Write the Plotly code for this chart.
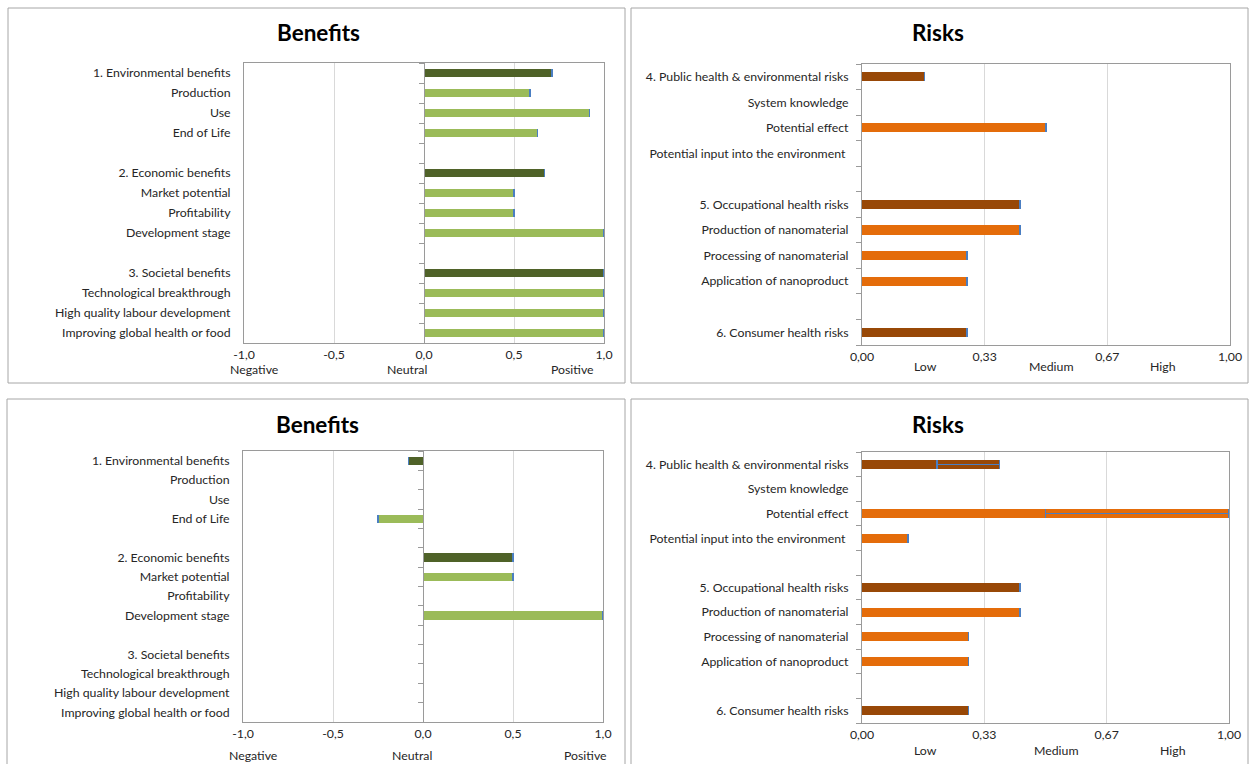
import plotly.graph_objects as go

# ---------------- data ----------------
benefit_categories = ["1. Environmental benefits", "Production", "Use", "End of Life", "",
                      "2. Economic benefits", "Market potential", "Profitability", "Development stage", "",
                      "3. Societal benefits", "Technological breakthrough",
                      "High quality labour development", "Improving global health or food"]
benefits_top = [0.71, 0.59, 0.92, 0.63, None, 0.67, 0.50, 0.50, 1.0, None, 1.0, 1.0, 1.0, 1.0]
benefits_bottom = [-0.08, None, None, -0.25, None, 0.50, 0.50, None, 1.0, None, None, None, None, None]

risk_categories = ["4. Public health & environmental risks", "System knowledge", "Potential effect",
                   "Potential input into the environment\u00a0", "",
                   "5. Occupational health risks", "Production of nanomaterial",
                   "Processing of nanomaterial", "Application of nanoproduct", "",
                   "6. Consumer health risks"]
risks_top = [0.17, None, 0.50, None, None, 0.43, 0.43, 0.285, 0.285, None, 0.285]
risks_bottom = [0.375, None, 1.0, 0.125, None, 0.43, 0.43, 0.29, 0.29, None, 0.29]
risks_bottom_err_minus = [0.17, None, 0.50, 0, None, 0, 0, 0, 0, None, 0]

benefit_ticks = [-1.0, -0.5, 0.0, 0.5, 1.0]
benefit_scale_labels = ["Negative", "Neutral", "Positive"]
risk_ticks = [0.0, 1 / 3, 2 / 3, 1.0]
risk_scale_labels = ["Low", "Medium", "High"]

# ---------------- style ----------------
W, H = 1250, 764
FONT = "Lato"
FS = 12.3
TXT = "#262626"
DARK_GREEN, LIGHT_GREEN = "#4F6228", "#9BBB59"
BROWN, ORANGE = "#984807", "#E46C0A"
ERR_BLUE = "#4A7EC2"
GRID = "#D9D9D9"
FRAME = "#9A9A9A"


def px(x):
    return x / W


def py(y):
    return 1 - y / H


def is_header(label):
    return label[:1].isdigit()


def fmt(v, d):
    return ("%.*f" % (d, v)).replace(".", ",")


fig = go.Figure()

panels = [
    dict(cats=benefit_categories, vals=benefits_top, errm=None, hc=DARK_GREEN, sc=LIGHT_GREEN, ax="",
         xd=[px(244), px(604)], yd=[py(343), py(63)], bw=0.42, kind="b"),
    dict(cats=risk_categories, vals=risks_top, errm=None, hc=BROWN, sc=ORANGE, ax="2",
         xd=[px(862), px(1230)], yd=[py(345), py(64)], bw=0.36, kind="r"),
    dict(cats=benefit_categories, vals=benefits_bottom, errm=None, hc=DARK_GREEN, sc=LIGHT_GREEN, ax="3",
         xd=[px(243), px(603)], yd=[py(722), py(451)], bw=0.42, kind="b"),
    dict(cats=risk_categories, vals=risks_bottom, errm=risks_bottom_err_minus, hc=BROWN, sc=ORANGE, ax="4",
         xd=[px(862), px(1229)], yd=[py(723), py(452)], bw=0.36, kind="r"),
]

layout_axes = {}
extra_ax = 5
for p in panels:
    cats = p["cats"]
    n = len(cats)
    pos = list(range(n))
    colors = [p["hc"] if is_header(c) else p["sc"] for c in cats]
    err_plus = [0 if v is not None else None for v in p["vals"]]
    err_minus = p["errm"] if p["errm"] is not None else err_plus
    slot_px = (p["yd"][1] - p["yd"][0]) * H / n
    fig.add_trace(go.Bar(
        x=p["vals"], y=pos, orientation="h", width=p["bw"],
        marker=dict(color=colors, line=dict(width=0)),
        error_x=dict(type="data", symmetric=False, array=err_plus, arrayminus=err_minus,
                     color=ERR_BLUE, thickness=1.5, width=slot_px * p["bw"] / 2),
        xaxis="x" + p["ax"], yaxis="y" + p["ax"], showlegend=False, hoverinfo="x+y",
    ))
    xkey = "xaxis" + p["ax"]
    ykey = "yaxis" + p["ax"]
    boundaries = [i + 0.5 for i in range(-1, n)]
    if p["kind"] == "b":
        xa = dict(range=[-1, 1], tickvals=benefit_ticks, ticktext=[fmt(v, 1) for v in benefit_ticks])
    else:
        xa = dict(range=[0, 1], tickvals=risk_ticks, ticktext=[fmt(v, 2) for v in risk_ticks])
    layout_axes[xkey] = dict(domain=p["xd"], anchor="y" + p["ax"], showgrid=True, gridcolor=GRID,
                             gridwidth=1, zeroline=False, showline=True, linecolor=FRAME, mirror=True,
                             ticks="", tickmode="array", automargin=False,
                             tickfont=dict(family=FONT, size=FS, color=TXT), fixedrange=True, **xa)
    ya = dict(domain=p["yd"], anchor="x" + p["ax"], range=[n - 0.5, -0.5], tickmode="array",
              tickvals=pos, ticktext=cats, showgrid=False, zeroline=False, showline=True,
              linecolor=FRAME, mirror=True, ticks="", ticklabelstandoff=10, automargin=False,
              tickfont=dict(family=FONT, size=FS, color=TXT), fixedrange=True)
    if p["kind"] == "r":
        ya["minor"] = dict(tickmode="array", tickvals=boundaries, ticks="outside", ticklen=5,
                           tickcolor=FRAME, showgrid=False)
        layout_axes[ykey] = ya
    else:
        layout_axes[ykey] = ya
        zero_pos = p["xd"][0] + (p["xd"][1] - p["xd"][0]) * 0.5
        ek = "yaxis%d" % extra_ax
        layout_axes[ek] = dict(overlaying="y" + p["ax"], anchor="free", position=zero_pos, side="left",
                               range=[n - 0.5, -0.5], showline=True, linecolor=FRAME,
                               linewidth=1, showgrid=False, zeroline=False, showticklabels=False,
                               tickmode="array", tickvals=boundaries, ticks="outside", ticklen=5,
                               tickcolor=FRAME, fixedrange=True, automargin=False)
        fig.add_trace(go.Scatter(x=[0], y=[0], mode="markers", marker=dict(opacity=0),
                                 xaxis="x" + p["ax"], yaxis="y%d" % extra_ax, showlegend=False,
                                 hoverinfo="skip"))
        extra_ax += 1

annotations = []
for (tx, ty, t) in [(318, 32, "Benefits"), (938, 32, "Risks"), (317, 424, "Benefits"), (938, 424, "Risks")]:
    annotations.append(dict(x=px(tx), y=py(ty), xref="paper", yref="paper", text="<b>%s</b>" % t,
                            showarrow=False, font=dict(family=FONT, size=22.5, color="#000000"),
                            xanchor="center", yanchor="middle"))
for xs, ys, labels in [([254, 407, 572], 369, benefit_scale_labels),
                       ([253, 412, 585], 755, benefit_scale_labels),
                       ([925, 1051, 1163], 366, risk_scale_labels),
                       ([925, 1056, 1173], 750, risk_scale_labels)]:
    for x, lab in zip(xs, labels):
        annotations.append(dict(x=px(x), y=py(ys), xref="paper", yref="paper", text=lab, showarrow=False,
                                font=dict(family=FONT, size=FS, color=TXT), xanchor="center",
                                yanchor="middle"))

shapes = []
for (x0, y0, x1, y1) in [(8, 8, 625, 383), (631, 8, 1248, 383), (7, 399, 625, 800), (631, 399, 1248, 800)]:
    shapes.append(dict(type="rect", xref="paper", yref="paper", x0=px(x0), x1=px(x1), y0=py(y1), y1=py(y0),
                       line=dict(color="#A6A6A6", width=1), fillcolor="rgba(0,0,0,0)", layer="below"))

fig.update_layout(width=W, height=H, margin=dict(l=0, r=0, t=0, b=0, pad=0, autoexpand=False),
                  paper_bgcolor="white", plot_bgcolor="white", bargap=0, annotations=annotations,
                  shapes=shapes, font=dict(family=FONT, size=FS, color=TXT), **layout_axes)

fig.write_html("out.html", config={"displayModeBar": False},
               post_script="document.body.style.margin='0';document.body.style.overflow='hidden';")
